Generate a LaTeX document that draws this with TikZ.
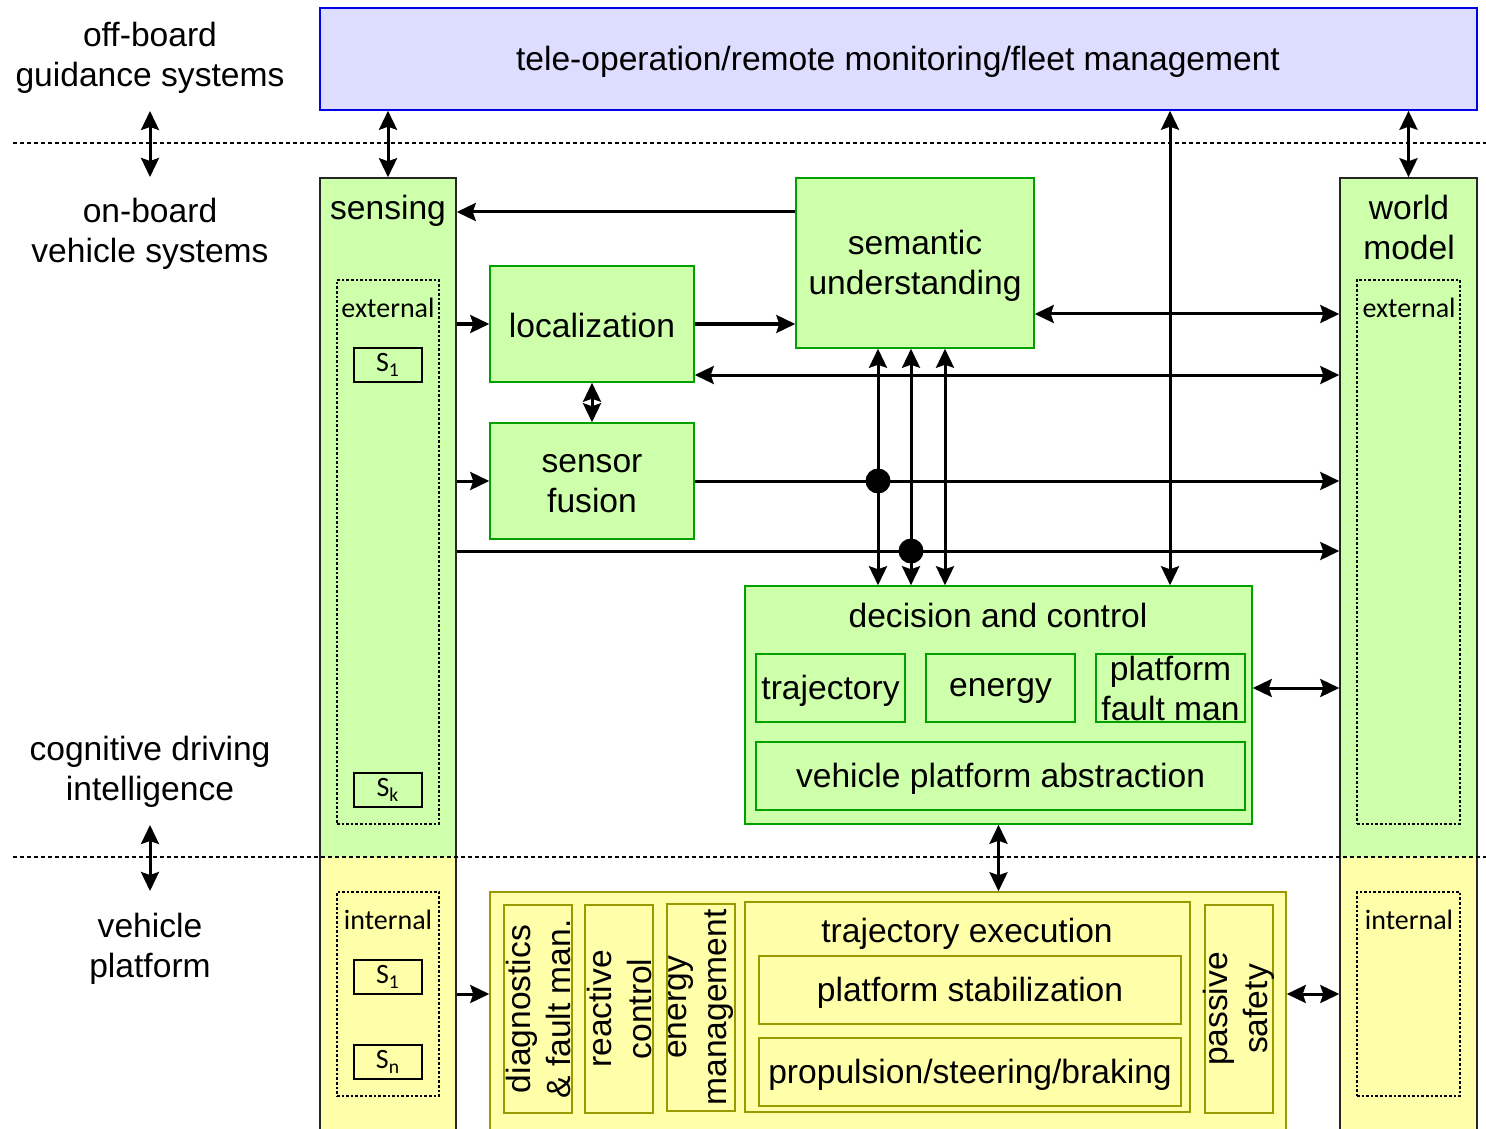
\documentclass[tikz,border=0pt]{standalone}
\usepackage{fontspec}
\setmainfont{Liberation Sans}
\newfontfamily\calfont{Carlito}
\usetikzlibrary{fit,arrows.meta}
\definecolor{gfill}{RGB}{206,255,170}
\definecolor{gline}{RGB}{0,160,0}
\definecolor{yfill}{RGB}{255,255,170}
\definecolor{yline}{RGB}{153,153,0}
\definecolor{bfill}{RGB}{221,221,255}
\definecolor{bline}{RGB}{0,0,230}
\begin{document}
\begin{tikzpicture}[x=0.5pt,y=-0.5pt,
  font=\fontsize{16.8}{20}\selectfont,
  every node/.style={align=center},
  gbox/.style={draw=gline, fill=gfill, line width=0.75pt, inner sep=0pt},
  ybox/.style={draw=yline, fill=yfill, line width=0.75pt, inner sep=0pt},
  colbox/.style={draw=black!85, line width=0.75pt, inner sep=0pt},
  sbox/.style={draw=black, line width=0.75pt, inner sep=0pt},
  stext/.style={font=\calfont\fontsize{14}{16}\selectfont, inner sep=0pt},
  dotbox/.style={draw=black, line width=0.75pt, dash pattern=on 1.3pt off 1pt, inner sep=0pt},
  small/.style={font=\calfont\fontsize{14}{16}\selectfont, inner sep=0pt},
  lbl/.style={inner sep=0pt, yshift=-1.5pt},
  rlbl/.style={inner sep=0pt, rotate=90},
  sepline/.style={line width=1pt, dash pattern=on 2.2pt off 1.3pt},
  arr/.style={line width=1.5pt, -{Stealth[length=9.5pt,width=9pt,inset=1.5pt]}},
  bi/.style={line width=1.5pt, {Stealth[length=9.5pt,width=9pt,inset=1.5pt]}-{Stealth[length=9.5pt,width=9pt,inset=1.5pt]}},
  dot/.style={circle, fill=black, inner sep=0pt, minimum size=12.5pt}
]
\useasboundingbox (0,0) rectangle (1486,1128);

% off-board system
\node[fit={(320,8)(1477,110)}, draw=bline, fill=bfill, line width=0.75pt, inner sep=0pt] (tele) {};
\node[lbl] at (898,59) (telel) {tele-operation/remote monitoring/fleet management};

% sensing column
\fill[gfill] (320,178) rectangle (456,857);
\fill[yfill] (320,857) rectangle (456,1140);
\node[colbox, fit={(320,178)(456,1140)}] (sens) {};
\node[lbl] at (388,208) (sensl) {sensing};
\node[dotbox, fit={(337,280)(439,824)}] (sensext) {};
\node[small] at (388,308) (sensextl) {external};
\node[sbox, fit={(354,348)(422,382)}] (s1) {};
\node[stext] at (s1.center) (s1l) {S\textsubscript{1}};
\node[sbox, fit={(354,773)(422,807)}] (sk) {};
\node[stext] at (sk.center) (skl) {S\textsubscript{k}};
\node[dotbox, fit={(337,892)(439,1096)}] (sensint) {};
\node[small] at (388,920) (sensintl) {internal};
\node[sbox, fit={(354,960)(422,994)}] (si1) {};
\node[stext] at (si1.center) (si1l) {S\textsubscript{1}};
\node[sbox, fit={(354,1045)(422,1079)}] (sn) {};
\node[stext] at (sn.center) (snl) {S\textsubscript{n}};

% world model column
\fill[gfill] (1340,178) rectangle (1477,857);
\fill[yfill] (1340,857) rectangle (1477,1140);
\node[colbox, fit={(1340,178)(1477,1140)}] (wm) {};
\node[lbl] at (1409,224) (wml) {world\\model};
\node[dotbox, fit={(1357,280)(1460,824)}] (wmext) {};
\node[small] at (1409,308) (wmextl) {external};
\node[dotbox, fit={(1357,892)(1460,1096)}] (wmint) {};
\node[small] at (1409,920) (wmintl) {internal};

% cognitive blocks
\node[gbox, fit={(490,266)(694,382)}] (loc) {};
\node[lbl, yshift=1pt] at (loc.center) (locl) {localization};
\node[gbox, fit={(490,423)(694,539)}] (fus) {};
\node[lbl] at (fus.center) (fusl) {sensor\\fusion};
\node[gbox, fit={(796,178)(1034,348)}] (sem) {};
\node[lbl] at (sem.center) (seml) {semantic\\understanding};
\node[gbox, fit={(745,586)(1252,824)}] (dc) {};
\node[lbl] at (998,612) (dcl) {decision and control};
\node[gbox, fit={(756,654)(905,722)}] (traj) {};
\node[lbl] at (traj.center) (trajl) {trajectory};
\node[gbox, fit={(926,654)(1075,722)}] (energy) {};
\node[lbl] at (energy.center) (energyl) {energy};
\node[gbox, fit={(1096,654)(1245,722)}] (pfm) {};
\node[inner sep=0pt] at (pfm.center) (pfml) {platform\\fault man};
\node[gbox, fit={(756,742)(1245,810)}] (vpa) {};
\node[lbl] at (vpa.center) (vpal) {vehicle platform abstraction};

% vehicle platform blocks
\node[ybox, fit={(490,892)(1286,1140)}] (vp) {};
\node[ybox, fit={(504,905)(572,1113)}] (diag) {};
\node[rlbl] at (diag.center) (diagl) {diagnostics\\\& fault man.};
\node[ybox, fit={(585,905)(653,1113)}] (reac) {};
\node[rlbl] at (reac.center) (reacl) {reactive\\control};
\node[ybox, fit={(667,904)(735,1111)}] (emg) {};
\node[rlbl] at (emg.center) (emgl) {energy\\management};
\node[ybox, fit={(745,902)(1190,1112)}] (tex) {};
\node[lbl] at (967,931) (texl) {trajectory execution};
\node[ybox, fit={(759,956)(1181,1024)}] (pstab) {};
\node[lbl] at (pstab.center) (pstabl) {platform stabilization};
\node[ybox, fit={(759,1038)(1181,1106)}] (prop) {};
\node[lbl] at (prop.center) (propl) {propulsion/steering/braking};
\node[ybox, fit={(1205,905)(1273,1113)}] (pas) {};
\node[rlbl] at (pas.center) (pasl) {passive\\safety};

% separators
\draw[sepline] (13,143) -- (1486,143);
\draw[sepline] (13,857) -- (1486,857);

% left labels
\node[lbl] at (150,55) (offb) {off-board\\guidance systems};
\node[lbl] at (150,231) (onb) {on-board\\vehicle systems};
\node[lbl] at (150,769) (cog) {cognitive driving\\intelligence};
\node[lbl] at (150,946) (vpl) {vehicle\\platform};
\coordinate (la1) at (150,111);
\coordinate (la2) at (150,177);
\coordinate (lb1) at (150,825);
\coordinate (lb2) at (150,891);
\draw[bi] (la1) -- (la2);
\draw[bi] (lb1) -- (lb2);

% connectors
\draw[bi] (tele.south -| sens.north) -- (sens.north);
\draw[bi] (tele.south -| 1170,0) -- (dc.north -| 1170,0);
\draw[bi] (tele.south -| wm.north) -- (wm.north);
\draw[arr] (sem.west |- 0,212) -- (sens.east |- 0,212);
\draw[arr] (sens.east |- loc.west) -- (loc.west);
\draw[arr] (loc.east) -- (sem.west |- loc.east);
\draw[bi] (sem.east |- 0,314) -- (wm.west |- 0,314);
\draw[bi] (loc.east |- 0,375) -- (wm.west |- 0,375);
\draw[bi] (loc.south) -- (fus.north);
\draw[arr] (sens.east |- fus.west) -- (fus.west);
\draw[arr] (fus.east) -- (wm.west |- fus.east);
\draw[arr] (sens.east |- 0,551) -- (wm.west |- 0,551);
\draw[bi] (sem.south -| 878,0) -- (dc.north -| 878,0);
\draw[bi] (sem.south -| 911,0) -- (dc.north -| 911,0);
\draw[bi] (sem.south -| 945,0) -- (dc.north -| 945,0);
\node[dot] at (878,481) (j1) {};
\node[dot] at (911,551) (j2) {};
\draw[bi] (dc.east |- pfm.east) -- (wm.west |- pfm.east);
\draw[bi] (dc.south) -- (vp.north -| dc.south);
\draw[arr] (sens.east |- 0,994) -- (vp.west |- 0,994);
\draw[bi] (vp.east |- 0,994) -- (wm.west |- 0,994);
\end{tikzpicture}
\end{document}
